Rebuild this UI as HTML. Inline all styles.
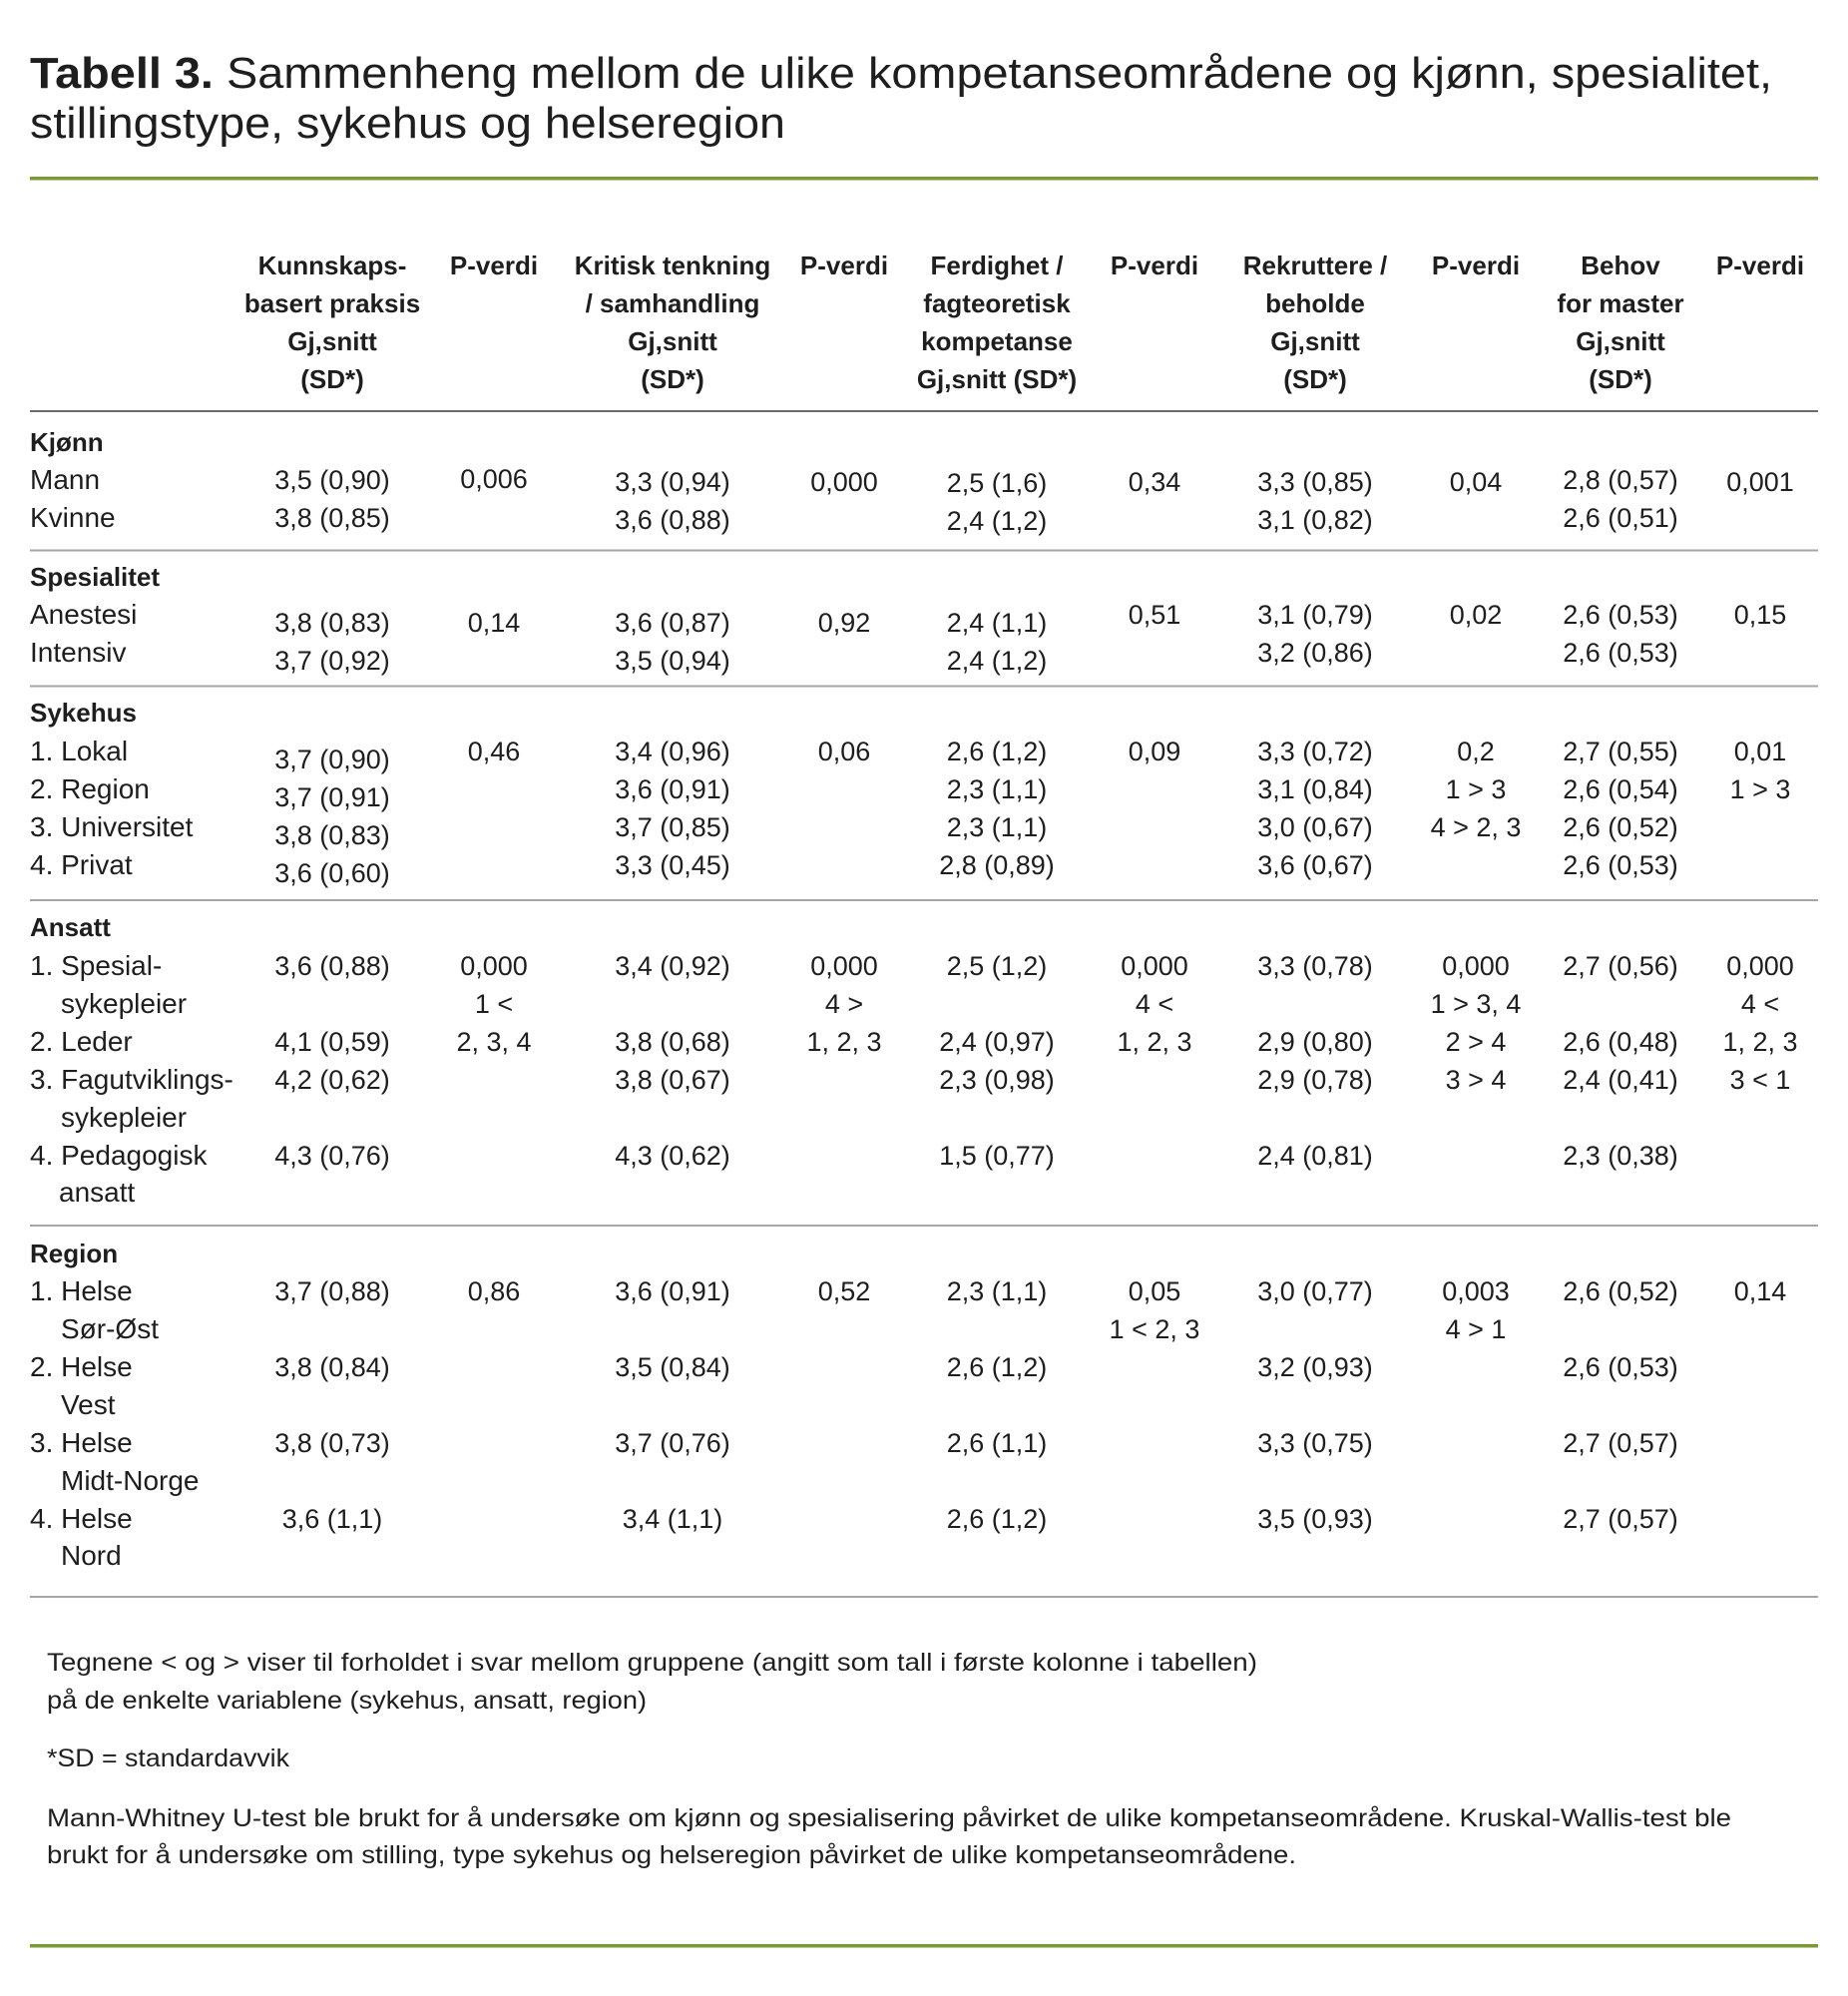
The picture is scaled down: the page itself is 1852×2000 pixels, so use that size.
<!DOCTYPE html>
<html>
<head>
<meta charset="utf-8">
<style>
  html, body { margin: 0; padding: 0; background: #ffffff; }
  svg { display: block; }
  text { font-family: "Liberation Sans", "DejaVu Sans", sans-serif; fill: #1e1e1e; }
  .t { font-size: 44px; }
  .h { font-size: 26px; font-weight: bold; text-anchor: middle; }
  .s { font-size: 26px; font-weight: bold; }
  .l { font-size: 28px; }
  .v { font-size: 27px; text-anchor: middle; }
  .f { font-size: 25px; }
</style>
</head>
<body>
<svg width="1852" height="2000" viewBox="0 0 1852 2000" xmlns="http://www.w3.org/2000/svg">
  <rect x="0" y="0" width="1852" height="2000" fill="#ffffff"/>

  <!-- Title -->
  <text class="t" x="30" y="88" textLength="1746" lengthAdjust="spacingAndGlyphs"><tspan font-weight="bold">Tabell 3.</tspan> Sammenheng mellom de ulike kompetanseområdene og kjønn, spesialitet,</text>
  <text class="t" x="30" y="138" textLength="757" lengthAdjust="spacingAndGlyphs">stillingstype, sykehus og helseregion</text>

  <!-- green rules -->
  <rect x="30" y="177" width="1792" height="3.5" fill="#7b9a36"/>
  <rect x="30" y="1948" width="1792" height="3.5" fill="#7b9a36"/>

  <!-- Header -->
  <text class="h" x="333" y="275">Kunnskaps-</text>
  <text class="h" x="333" y="313">basert praksis</text>
  <text class="h" x="333" y="351">Gj,snitt</text>
  <text class="h" x="333" y="389">(SD*)</text>
  <text class="h" x="495" y="275">P-verdi</text>

  <text class="h" x="674" y="275">Kritisk tenkning</text>
  <text class="h" x="674" y="313">/ samhandling</text>
  <text class="h" x="674" y="351">Gj,snitt</text>
  <text class="h" x="674" y="389">(SD*)</text>
  <text class="h" x="846" y="275">P-verdi</text>

  <text class="h" x="999" y="275">Ferdighet /</text>
  <text class="h" x="999" y="313">fagteoretisk</text>
  <text class="h" x="999" y="351">kompetanse</text>
  <text class="h" x="999" y="389">Gj,snitt (SD*)</text>
  <text class="h" x="1157" y="275">P-verdi</text>

  <text class="h" x="1318" y="275">Rekruttere /</text>
  <text class="h" x="1318" y="313">beholde</text>
  <text class="h" x="1318" y="351">Gj,snitt</text>
  <text class="h" x="1318" y="389">(SD*)</text>
  <text class="h" x="1479" y="275">P-verdi</text>

  <text class="h" x="1624" y="275">Behov</text>
  <text class="h" x="1624" y="313">for master</text>
  <text class="h" x="1624" y="351">Gj,snitt</text>
  <text class="h" x="1624" y="389">(SD*)</text>
  <text class="h" x="1764" y="275">P-verdi</text>

  <!-- table rules -->
  <line x1="30" y1="412" x2="1822" y2="412" stroke="#3c3c3c" stroke-width="1.6"/>
  <line x1="30" y1="551.5" x2="1822" y2="551.5" stroke="#a6a6a6" stroke-width="2"/>
  <line x1="30" y1="687.5" x2="1822" y2="687.5" stroke="#a6a6a6" stroke-width="2"/>
  <line x1="30" y1="902" x2="1822" y2="902" stroke="#a6a6a6" stroke-width="2"/>
  <line x1="30" y1="1228" x2="1822" y2="1228" stroke="#a6a6a6" stroke-width="2"/>
  <line x1="30" y1="1600" x2="1822" y2="1600" stroke="#a6a6a6" stroke-width="2"/>

  <!-- Kjønn -->
  <text class="s" x="30" y="452">Kjønn</text>
  <text class="l" x="30" y="490">Mann</text>
  <text class="l" x="30" y="528">Kvinne</text>
  <text class="v" x="333" y="490">3,5 (0,90)</text>
  <text class="v" x="333" y="528">3,8 (0,85)</text>
  <text class="v" x="495" y="489">0,006</text>
  <text class="v" x="674" y="492">3,3 (0,94)</text>
  <text class="v" x="674" y="530">3,6 (0,88)</text>
  <text class="v" x="846" y="492">0,000</text>
  <text class="v" x="999" y="493">2,5 (1,6)</text>
  <text class="v" x="999" y="531">2,4 (1,2)</text>
  <text class="v" x="1157" y="492">0,34</text>
  <text class="v" x="1318" y="492">3,3 (0,85)</text>
  <text class="v" x="1318" y="530">3,1 (0,82)</text>
  <text class="v" x="1479" y="492">0,04</text>
  <text class="v" x="1624" y="490">2,8 (0,57)</text>
  <text class="v" x="1624" y="528">2,6 (0,51)</text>
  <text class="v" x="1764" y="492">0,001</text>

  <!-- Spesialitet -->
  <text class="s" x="30" y="587">Spesialitet</text>
  <text class="l" x="30" y="625">Anestesi</text>
  <text class="l" x="30" y="663">Intensiv</text>
  <text class="v" x="333" y="633">3,8 (0,83)</text>
  <text class="v" x="333" y="671">3,7 (0,92)</text>
  <text class="v" x="495" y="633">0,14</text>
  <text class="v" x="674" y="633">3,6 (0,87)</text>
  <text class="v" x="674" y="671">3,5 (0,94)</text>
  <text class="v" x="846" y="633">0,92</text>
  <text class="v" x="999" y="633">2,4 (1,1)</text>
  <text class="v" x="999" y="671">2,4 (1,2)</text>
  <text class="v" x="1157" y="625">0,51</text>
  <text class="v" x="1318" y="625">3,1 (0,79)</text>
  <text class="v" x="1318" y="663">3,2 (0,86)</text>
  <text class="v" x="1479" y="625">0,02</text>
  <text class="v" x="1624" y="625">2,6 (0,53)</text>
  <text class="v" x="1624" y="663">2,6 (0,53)</text>
  <text class="v" x="1764" y="625">0,15</text>

  <!-- Sykehus -->
  <text class="s" x="30" y="723">Sykehus</text>
  <text class="l" x="30" y="762">1. Lokal</text>
  <text class="l" x="30" y="800">2. Region</text>
  <text class="l" x="30" y="838">3. Universitet</text>
  <text class="l" x="30" y="876">4. Privat</text>
  <text class="v" x="333" y="770">3,7 (0,90)</text>
  <text class="v" x="333" y="808">3,7 (0,91)</text>
  <text class="v" x="333" y="846">3,8 (0,83)</text>
  <text class="v" x="333" y="884">3,6 (0,60)</text>
  <text class="v" x="495" y="762">0,46</text>
  <text class="v" x="674" y="762">3,4 (0,96)</text>
  <text class="v" x="674" y="800">3,6 (0,91)</text>
  <text class="v" x="674" y="838">3,7 (0,85)</text>
  <text class="v" x="674" y="876">3,3 (0,45)</text>
  <text class="v" x="846" y="762">0,06</text>
  <text class="v" x="999" y="762">2,6 (1,2)</text>
  <text class="v" x="999" y="800">2,3 (1,1)</text>
  <text class="v" x="999" y="838">2,3 (1,1)</text>
  <text class="v" x="999" y="876">2,8 (0,89)</text>
  <text class="v" x="1157" y="762">0,09</text>
  <text class="v" x="1318" y="762">3,3 (0,72)</text>
  <text class="v" x="1318" y="800">3,1 (0,84)</text>
  <text class="v" x="1318" y="838">3,0 (0,67)</text>
  <text class="v" x="1318" y="876">3,6 (0,67)</text>
  <text class="v" x="1479" y="762">0,2</text>
  <text class="v" x="1479" y="800">1 &gt; 3</text>
  <text class="v" x="1479" y="838">4 &gt; 2, 3</text>
  <text class="v" x="1624" y="762">2,7 (0,55)</text>
  <text class="v" x="1624" y="800">2,6 (0,54)</text>
  <text class="v" x="1624" y="838">2,6 (0,52)</text>
  <text class="v" x="1624" y="876">2,6 (0,53)</text>
  <text class="v" x="1764" y="762">0,01</text>
  <text class="v" x="1764" y="800">1 &gt; 3</text>

  <!-- Ansatt -->
  <text class="s" x="30" y="938">Ansatt</text>
  <text class="l" x="30" y="977">1. Spesial-</text>
  <text class="l" x="61" y="1015">sykepleier</text>
  <text class="l" x="30" y="1053">2. Leder</text>
  <text class="l" x="30" y="1091">3. Fagutviklings-</text>
  <text class="l" x="61" y="1129">sykepleier</text>
  <text class="l" x="30" y="1167">4. Pedagogisk</text>
  <text class="l" x="59" y="1204">ansatt</text>

  <text class="v" x="333" y="977">3,6 (0,88)</text>
  <text class="v" x="333" y="1053">4,1 (0,59)</text>
  <text class="v" x="333" y="1091">4,2 (0,62)</text>
  <text class="v" x="333" y="1167">4,3 (0,76)</text>
  <text class="v" x="495" y="977">0,000</text>
  <text class="v" x="495" y="1015">1 &lt;</text>
  <text class="v" x="495" y="1053">2, 3, 4</text>

  <text class="v" x="674" y="977">3,4 (0,92)</text>
  <text class="v" x="674" y="1053">3,8 (0,68)</text>
  <text class="v" x="674" y="1091">3,8 (0,67)</text>
  <text class="v" x="674" y="1167">4,3 (0,62)</text>
  <text class="v" x="846" y="977">0,000</text>
  <text class="v" x="846" y="1015">4 &gt;</text>
  <text class="v" x="846" y="1053">1, 2, 3</text>

  <text class="v" x="999" y="977">2,5 (1,2)</text>
  <text class="v" x="999" y="1053">2,4 (0,97)</text>
  <text class="v" x="999" y="1091">2,3 (0,98)</text>
  <text class="v" x="999" y="1167">1,5 (0,77)</text>
  <text class="v" x="1157" y="977">0,000</text>
  <text class="v" x="1157" y="1015">4 &lt;</text>
  <text class="v" x="1157" y="1053">1, 2, 3</text>

  <text class="v" x="1318" y="977">3,3 (0,78)</text>
  <text class="v" x="1318" y="1053">2,9 (0,80)</text>
  <text class="v" x="1318" y="1091">2,9 (0,78)</text>
  <text class="v" x="1318" y="1167">2,4 (0,81)</text>
  <text class="v" x="1479" y="977">0,000</text>
  <text class="v" x="1479" y="1015">1 &gt; 3, 4</text>
  <text class="v" x="1479" y="1053">2 &gt; 4</text>
  <text class="v" x="1479" y="1091">3 &gt; 4</text>

  <text class="v" x="1624" y="977">2,7 (0,56)</text>
  <text class="v" x="1624" y="1053">2,6 (0,48)</text>
  <text class="v" x="1624" y="1091">2,4 (0,41)</text>
  <text class="v" x="1624" y="1167">2,3 (0,38)</text>
  <text class="v" x="1764" y="977">0,000</text>
  <text class="v" x="1764" y="1015">4 &lt;</text>
  <text class="v" x="1764" y="1053">1, 2, 3</text>
  <text class="v" x="1764" y="1091">3 &lt; 1</text>

  <!-- Region -->
  <text class="s" x="30" y="1265">Region</text>
  <text class="l" x="30" y="1303">1. Helse</text>
  <text class="l" x="61" y="1341">Sør-Øst</text>
  <text class="l" x="30" y="1379">2. Helse</text>
  <text class="l" x="61" y="1417">Vest</text>
  <text class="l" x="30" y="1455">3. Helse</text>
  <text class="l" x="61" y="1493">Midt-Norge</text>
  <text class="l" x="30" y="1531">4. Helse</text>
  <text class="l" x="61" y="1568">Nord</text>

  <text class="v" x="333" y="1303">3,7 (0,88)</text>
  <text class="v" x="333" y="1379">3,8 (0,84)</text>
  <text class="v" x="333" y="1455">3,8 (0,73)</text>
  <text class="v" x="333" y="1531">3,6 (1,1)</text>
  <text class="v" x="495" y="1303">0,86</text>

  <text class="v" x="674" y="1303">3,6 (0,91)</text>
  <text class="v" x="674" y="1379">3,5 (0,84)</text>
  <text class="v" x="674" y="1455">3,7 (0,76)</text>
  <text class="v" x="674" y="1531">3,4 (1,1)</text>
  <text class="v" x="846" y="1303">0,52</text>

  <text class="v" x="999" y="1303">2,3 (1,1)</text>
  <text class="v" x="999" y="1379">2,6 (1,2)</text>
  <text class="v" x="999" y="1455">2,6 (1,1)</text>
  <text class="v" x="999" y="1531">2,6 (1,2)</text>
  <text class="v" x="1157" y="1303">0,05</text>
  <text class="v" x="1157" y="1341">1 &lt; 2, 3</text>

  <text class="v" x="1318" y="1303">3,0 (0,77)</text>
  <text class="v" x="1318" y="1379">3,2 (0,93)</text>
  <text class="v" x="1318" y="1455">3,3 (0,75)</text>
  <text class="v" x="1318" y="1531">3,5 (0,93)</text>
  <text class="v" x="1479" y="1303">0,003</text>
  <text class="v" x="1479" y="1341">4 &gt; 1</text>

  <text class="v" x="1624" y="1303">2,6 (0,52)</text>
  <text class="v" x="1624" y="1379">2,6 (0,53)</text>
  <text class="v" x="1624" y="1455">2,7 (0,57)</text>
  <text class="v" x="1624" y="1531">2,7 (0,57)</text>
  <text class="v" x="1764" y="1303">0,14</text>

  <!-- Footnotes -->
  <text class="f" x="47" y="1674" textLength="1213" lengthAdjust="spacingAndGlyphs">Tegnene  &lt; og &gt; viser til forholdet i svar mellom gruppene (angitt som tall i første kolonne i tabellen)</text>
  <text class="f" x="47" y="1712" textLength="601" lengthAdjust="spacingAndGlyphs">på de enkelte variablene (sykehus, ansatt, region)</text>
  <text class="f" x="47" y="1770" textLength="243" lengthAdjust="spacingAndGlyphs">*SD = standardavvik</text>
  <text class="f" x="47" y="1830" textLength="1688" lengthAdjust="spacingAndGlyphs">Mann-Whitney U-test ble brukt for å undersøke om kjønn og spesialisering påvirket de ulike kompetanseområdene. Kruskal-Wallis-test ble</text>
  <text class="f" x="47" y="1867" textLength="1252" lengthAdjust="spacingAndGlyphs">brukt for å undersøke om stilling, type sykehus og helseregion påvirket de ulike kompetanseområdene.</text>
</svg>
</body>
</html>
